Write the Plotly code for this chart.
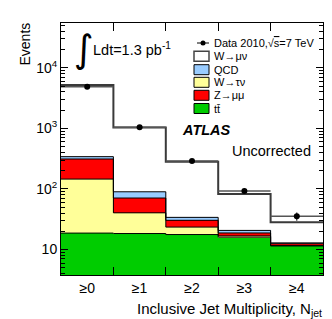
import numpy as np
import plotly.graph_objects as go

# ---- data ----
bin_labels = ["≥0", "≥1", "≥2", "≥3", "≥4"]
ttbar = [18.7, 18.4, 17.7, 16.0, 11.5]
wtaunu = [127, 22, 5.8, 0.8, 0.1]
zmumu = [167, 30.5, 6.9, 2.0, 0.9]
qcd = [29, 19, 3.6, 1.9, 0.4]
wmunu = [4858, 949, 247, 62, 15.3]
data = [4850, 1045, 290, 92.5, 35.4]
data_err = [70, 32, 17, 9.6, 5.5]

components = [
    ("tt", ttbar, "#00CC00"),
    ("W→τν", wtaunu, "#FFFF99"),
    ("Z→μμ", zmumu, "#FF0000"),
    ("QCD", qcd, "#99CCFF"),
    ("W→μν", wmunu, "#FFFFFF"),
]

nb = len(bin_labels)
centers = np.arange(nb) + 0.5
edges = np.arange(nb + 1)

W, H = 332, 319
L, R, T, B = 53, 17, 15, 52
pw, ph = W - L - R, H - T - B


def px(x):
    return (x - L) / pw


def py(y):
    return (H - B - y) / ph


FONT = "Liberation Sans, Arial, Helvetica, sans-serif"
fig = go.Figure()

# filled stacked bars
for name, vals, col in components:
    fig.add_trace(go.Bar(x=centers, y=vals, width=1.0, marker=dict(color=col, line=dict(width=0)),
                         name=name, showlegend=False))

# step outlines of cumulative levels
cum = np.zeros(nb)
for i, (name, vals, col) in enumerate(components):
    cum = cum + np.array(vals, dtype=float)
    yy = list(cum) + [cum[-1]]
    last = i == len(components) - 1
    fig.add_trace(go.Scatter(x=edges, y=yy, mode="lines", line_shape="hv",
                             line=dict(color="#3a3a3a" if last else "black", width=2 if last else 1),
                             showlegend=False, hoverinfo="skip"))

# data points
fig.add_trace(go.Scatter(x=centers, y=data, mode="markers",
                         marker=dict(color="black", size=6),
                         error_y=dict(type="data", array=data_err, color="black", thickness=1, width=0),
                         error_x=dict(type="constant", value=0.5, color="#555555", thickness=1.5, width=0),
                         showlegend=False))

minor_y = [m * 10 ** k for k in range(0, 5) for m in range(2, 10)]

fig.update_layout(
    width=W, height=H,
    margin=dict(l=L, r=R, t=T, b=B),
    paper_bgcolor="white", plot_bgcolor="white",
    barmode="stack", bargap=0,
    font=dict(family=FONT, size=14, color="black"),
    xaxis=dict(range=[0, nb], tickvals=centers, ticktext=bin_labels, ticks="",
               showline=True, linecolor="black", linewidth=1, mirror="ticks",
               showgrid=False, zeroline=False,
               minor=dict(tickvals=list(edges[1:-1]), ticks="inside", ticklen=8, tickcolor="black", showgrid=False),
               tickfont=dict(size=14)),
    yaxis=dict(type="log", range=[0.58, 4.74],
               tickvals=[10, 100, 1000, 10000],
               ticktext=["10", "10<sup>2</sup>", "10<sup>3</sup>", "10<sup>4</sup>"],
               ticks="inside", ticklen=7, tickcolor="black",
               showline=True, linecolor="black", linewidth=1, mirror="ticks",
               showgrid=False, zeroline=False,
               minor=dict(tickvals=minor_y, ticks="inside", ticklen=4, tickcolor="black", showgrid=False),
               tickfont=dict(size=14)),
)

ann = []
ann.append(dict(text="Events", x=px(16), y=py(13), textangle=-90, xanchor="center", yanchor="top",
                font=dict(size=14)))
ann.append(dict(text="Inclusive Jet Multiplicity, N<sub>jet</sub>", x=px(316), y=py(301),
                xanchor="right", yanchor="middle", font=dict(size=15)))
ann.append(dict(text="∫", x=px(76), y=py(41), xanchor="center", yanchor="middle",
                font=dict(size=38, family="DejaVu Sans")))
ann.append(dict(text="Ldt=1.3 pb<sup>-1</sup>", x=px(83), y=py(41), xanchor="left", yanchor="middle",
                font=dict(size=14.5)))
ann.append(dict(text="<b><i>ATLAS</i></b>", x=px(172), y=py(122), xanchor="left", yanchor="middle",
                font=dict(size=14.5)))
ann.append(dict(text="Uncorrected", x=px(305), y=py(142.5), xanchor="right", yanchor="middle",
                font=dict(size=14.5)))

shapes = []
rows = [35, 48.3, 61.7, 74.3, 87.3, 100.5]
leg_text = ["Data 2010,√<span style='text-decoration:overline'>s</span>=7 TeV", "W→μν", "QCD", "W→τν", "Z→μμ", "tt̄"]
leg_cols = [None, "#FFFFFF", "#99CCFF", "#FFFF99", "#FF0000", "#00CC00"]
for r, t, c in zip(rows, leg_text, leg_cols):
    ann.append(dict(text=t, x=px(204), y=py(r), xanchor="left", yanchor="middle", font=dict(size=11)))
    if c is None:
        shapes.append(dict(type="line", xref="paper", yref="paper", x0=px(189), x1=px(201), y0=py(r), y1=py(r),
                           line=dict(color="black", width=1)))
        shapes.append(dict(type="circle", xref="paper", yref="paper", x0=px(192.5), x1=px(197.5),
                           y0=py(r + 2.5), y1=py(r - 2.5), fillcolor="black", line=dict(color="black", width=0)))
    else:
        shapes.append(dict(type="rect", xref="paper", yref="paper", x0=px(186), x1=px(201),
                           y0=py(r + 5), y1=py(r - 5), fillcolor=c,
                           line=dict(color="#444444" if c == "#FFFFFF" else "black", width=1.5 if c == "#FFFFFF" else 1)))

for a in ann:
    a.update(xref="paper", yref="paper", showarrow=False)
fig.update_layout(annotations=ann, shapes=shapes)

fig.write_html("out.html")
